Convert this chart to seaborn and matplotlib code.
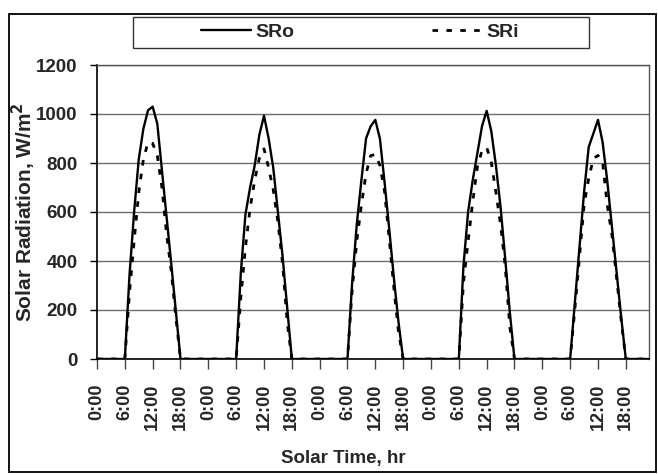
import numpy as np
import pandas as pd
import matplotlib
matplotlib.use("Agg")
import matplotlib.pyplot as plt
from matplotlib.patches import Rectangle
import seaborn as sns

# ---- data (daytime values, hours 6..18 of each day; night values are 0) ----
day_hours = list(range(6, 19))
sro_day1 = [0, 340, 600, 815, 940, 1015, 1030, 960, 770, 580, 390, 195, 0]
sro_day2 = [0, 350, 590, 700, 790, 915, 993, 900, 780, 600, 420, 210, 0]
sro_day3 = [0, 310, 550, 730, 900, 950, 976, 898, 720, 530, 330, 150, 0]
sro_day4 = [0, 380, 600, 730, 840, 950, 1013, 930, 790, 620, 410, 190, 0]
sro_day5 = [0, 226, 454, 680, 865, 920, 976, 885, 727, 541, 357, 171, 0]

sri_day1 = [0, 270, 480, 680, 815, 885, 880, 830, 700, 510, 360, 170, 0]
sri_day2 = [0, 250, 455, 615, 730, 820, 858, 780, 690, 560, 390, 150, 0]
sri_day3 = [0, 280, 480, 629, 757, 830, 835, 790, 683, 490, 290, 110, 0]
sri_day4 = [0, 310, 481, 642, 784, 851, 864, 804, 680, 548, 380, 130, 0]
sri_day5 = [0, 200, 413, 629, 737, 818, 831, 804, 629, 508, 333, 158, 0]

n_days = 5
tick_labels = ["0:00", "6:00", "12:00", "18:00"] * n_days

hours = np.arange(24 * n_days)
sro = np.zeros(len(hours))
sri = np.zeros(len(hours))
for d, (o, i) in enumerate(zip([sro_day1, sro_day2, sro_day3, sro_day4, sro_day5],
                               [sri_day1, sri_day2, sri_day3, sri_day4, sri_day5])):
    for h, vo, vi in zip(day_hours, o, i):
        sro[24 * d + h] = vo
        sri[24 * d + h] = vi

df = pd.DataFrame({"hour": hours, "SRo": sro, "SRi": sri})

# ---- style ----
sns.set_style("white")
plt.rcParams["font.family"] = ["Liberation Sans", "DejaVu Sans"]
plt.rcParams["font.weight"] = "bold"

W, H = 658, 475
fig = plt.figure(figsize=(W / 100, H / 100), dpi=100)

def fx(px):
    return px / W

def fy(py):
    return 1 - py / H

ax_l, ax_r, ax_t, ax_b = 97, 649, 65, 359
ax = fig.add_axes([fx(ax_l), fy(ax_b), fx(ax_r) - fx(ax_l), fy(ax_t) - fy(ax_b)])

sns.lineplot(data=df, x="hour", y="SRo", ax=ax, color="black", lw=1.7,
             label="SRo", legend=False)
sns.lineplot(data=df, x="hour", y="SRi", ax=ax, color="black", lw=2.0,
             linestyle=(0, (2.0, 3.0)), label="SRi", legend=False)

ax.set_xlim(0, 24 * n_days - 1)
ax.set_ylim(0, 1200)
ax.set_yticks(np.arange(0, 1201, 200))
ax.set_xticks(np.arange(0, 24 * n_days, 6))
ax.set_xticklabels(tick_labels, rotation=90, fontsize=13, fontweight="bold")
for lab in ax.get_yticklabels():
    lab.set_fontsize(13.5)
    lab.set_fontweight("bold")

ax.yaxis.grid(True, color="#6e6e6e", lw=1)
ax.xaxis.grid(False)
ax.tick_params(axis="y", direction="out", length=5, width=1, color="black", pad=9,
               left=True)
ax.tick_params(axis="x", direction="out", length=7, width=1, color="#444444", pad=11,
               bottom=True)
for side in ["top", "right"]:
    ax.spines[side].set_color("#555555")
    ax.spines[side].set_linewidth(1)
for side in ["left", "bottom"]:
    ax.spines[side].set_color("black")
    ax.spines[side].set_linewidth(1.2)

ax.set_xlabel("")
ax.set_ylabel("Solar Radiation, W/m$^{\\mathbf{2}}$", fontsize=15, fontweight="bold")
ax.yaxis.set_label_coords((38 - ax_l) / (ax_r - ax_l), 0.5)
fig.text(fx(343), fy(458), "Solar Time, hr", ha="center", va="center",
         fontsize=13.5, fontweight="bold")

# legend
handles, labels = ax.get_legend_handles_labels()
fig.legend(handles, labels, loc="center", bbox_to_anchor=(fx(360), fy(32.5)),
           ncol=2, frameon=False, handlelength=2.6,
           handletextpad=0.2, columnspacing=7.1,
           prop={"weight": "bold", "size": 14})
fig.patches.append(Rectangle((fx(133), fy(48)), fx(589) - fx(133), fy(17) - fy(48),
                             transform=fig.transFigure, fill=False,
                             edgecolor="#333333", lw=1))
# outer frame
fig.patches.append(Rectangle((fx(9), fy(472)), fx(656) - fx(9), fy(14) - fy(472),
                             transform=fig.transFigure, fill=False,
                             edgecolor="black", lw=1.3))

fig.savefig("out.png", dpi=100)
